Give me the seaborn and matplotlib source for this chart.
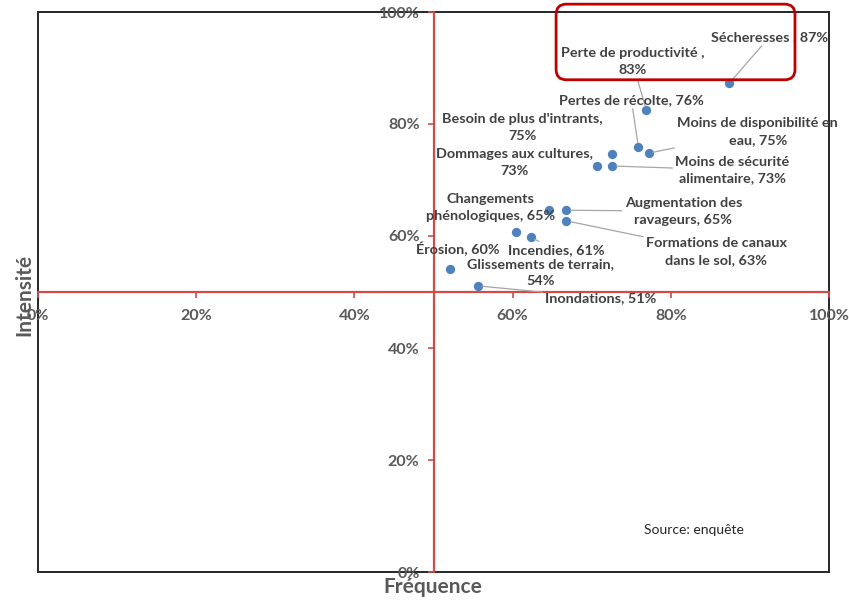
import matplotlib
matplotlib.use("Agg")
import matplotlib.pyplot as plt
from matplotlib.patches import Rectangle, FancyBboxPatch
from matplotlib.ticker import FuncFormatter
import seaborn as sns
import pandas as pd

# ---- data ----
labels = [
    "Sécheresses , 87%",
    "Perte de productivité ,\n83%",
    "Pertes de récolte, 76%",
    "Moins de disponibilité en\neau, 75%",
    "Besoin de plus d'intrants,\n75%",
    "Dommages aux cultures,\n73%",
    "Moins de sécurité\nalimentaire, 73%",
    "Changements\nphénologiques, 65%",
    "Augmentation des\nravageurs, 65%",
    "Formations de canaux\ndans le sol, 63%",
    "Érosion, 60%",
    "Incendies, 61%",
    "Glissements de terrain,\n54%",
    "Inondations, 51%",
]
frequence = [87.4, 76.9, 75.9, 77.2, 72.6, 70.7, 72.6, 64.6, 66.8, 66.8, 60.4, 62.3, 52.1, 55.6]
intensite = [87.3, 82.5, 75.9, 74.8, 74.6, 72.5, 72.5, 64.6, 64.6, 62.7, 60.7, 59.8, 54.1, 51.1]
ticks = [0, 20, 40, 60, 80, 100]

# label offsets in points (text placement only)
offsets = [(28.8, 33.1), (-10, 34.6), (-5, 33.8), (78.5, 15.8), (-64.8, 19.4),
           (-59.8, 2.2), (86.4, -2.9), (-41.8, 2.2), (84.2, -0.7), (108, -22.3),
           (-41.8, -12.2), (18, -9.4), (64.8, -2.2), (88.6, -8.6)]
leader = [True, True, True, True, False, False, True, False, True, True,
          False, True, False, True]

df = pd.DataFrame({"Fréquence": frequence, "Intensité": intensite, "label": labels})

plt.rcParams['font.family'] = ['Lato', 'DejaVu Sans']

fig = plt.figure(figsize=(8.49, 6.0), dpi=100)
ax = fig.add_axes([38 / 849, 28 / 600, 791 / 849, 560 / 600])

sns.scatterplot(data=df, x="Fréquence", y="Intensité", ax=ax, color="#4F81BD",
                s=45, linewidth=0, zorder=5)

ax.set_xlim(0, 100)
ax.set_ylim(0, 100)
ax.set_xlabel("")
ax.set_ylabel("")

red = "#D24B4B"
for side in ("left", "bottom"):
    ax.spines[side].set_position(("data", 50))
    ax.spines[side].set_color(red)
    ax.spines[side].set_linewidth(1.6)
ax.spines["top"].set_visible(False)
ax.spines["right"].set_visible(False)
ax.add_patch(Rectangle((0, 0), 1, 1, transform=ax.transAxes, fill=False,
                       edgecolor="#262626", linewidth=1.4, clip_on=False, zorder=1))

pct = FuncFormatter(lambda v, p: f"{v:.0f}%")
ax.set_xticks(ticks)
ax.set_yticks(ticks)
ax.xaxis.set_major_formatter(pct)
ax.yaxis.set_major_formatter(pct)
ax.tick_params(axis="both", direction="out", length=4, width=1.2, color=red,
               labelsize=11.5, labelcolor="#595959")
ax.tick_params(axis="x", pad=8)
ax.tick_params(axis="y", pad=6)
for t in ax.get_xticklabels() + ax.get_yticklabels():
    t.set_fontweight("bold")

for lab, fx, iy, off, ld in zip(labels, frequence, intensite, offsets, leader):
    kw = dict(arrowprops=dict(arrowstyle="-", color="#A6A6A6", lw=0.9,
                              shrinkA=0, shrinkB=3)) if ld else {}
    ax.annotate(lab, xy=(fx, iy), xytext=off, textcoords="offset points",
                ha="center", va="center", multialignment="center", linespacing=1.5,
                fontsize=10.4, fontweight="bold", color="#404040", zorder=6, **kw)

# highlight box
box = FancyBboxPatch((65.5, 87.9), 30.2, 13.5, boxstyle="round,pad=0,rounding_size=1.3",
                     mutation_aspect=1.41, fill=False, edgecolor="#C00000",
                     linewidth=2, clip_on=False, zorder=7)
ax.add_patch(box)

fig.text(24 / 849, 1 - 295 / 600, "Intensité", rotation=90, ha="center", va="center",
         fontsize=15, fontweight="bold", color="#595959")
fig.text(433 / 849, 1 - 587 / 600, "Fréquence", ha="center", va="center",
         fontsize=15, fontweight="bold", color="#595959")
fig.text(694 / 849, 1 - 530 / 600, "Source: enquête", ha="center", va="center",
         fontsize=10, color="#262626")

fig.savefig("out.png", dpi=100)
